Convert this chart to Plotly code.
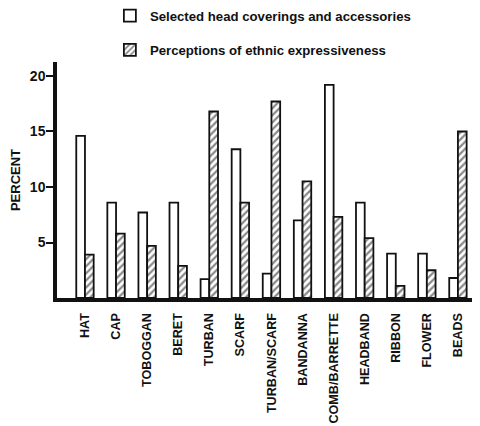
import plotly.graph_objects as go

categories = ["HAT", "CAP", "TOBOGGAN", "BERET", "TURBAN", "SCARF", "TURBAN/SCARF",
              "BANDANNA", "COMB/BARRETTE", "HEADBAND", "RIBBON", "FLOWER", "BEADS"]
selected = [14.6, 8.6, 7.7, 8.6, 1.7, 13.4, 2.2, 7.0, 19.2, 8.6, 4.0, 4.0, 1.8]
perceptions = [3.9, 5.8, 4.7, 2.9, 16.8, 8.6, 17.7, 10.5, 7.3, 5.4, 1.1, 2.5, 15.0]
y_ticks = [5, 10, 15, 20]

FONT = "Liberation Sans, Arial, sans-serif"
INK = "#111111"

fig = go.Figure()
fig.add_trace(go.Bar(
    x=categories, y=selected, name="Selected head coverings and accessories",
    marker=dict(color="white", line=dict(color=INK, width=1.8)),
    legendgroup="a",
))
fig.add_trace(go.Bar(
    x=categories, y=perceptions, name="Perceptions of ethnic expressiveness",
    marker=dict(color="white", line=dict(color=INK, width=1.8),
                pattern=dict(shape="/", fgcolor=INK, bgcolor="white", size=5, solidity=0.45)),
    legendgroup="b",
))

# the page body adds an 8px offset, so the figure is 8px smaller and margins shifted
fig.update_layout(
    width=472, height=418,
    margin=dict(l=49, r=0, t=54, b=128, autoexpand=False),
    paper_bgcolor="white", plot_bgcolor="white",
    barmode="group", bargap=0.44, bargroupgap=0,
    font=dict(family=FONT, color=INK, size=13),
    showlegend=True,
    legend=dict(
        xref="paper", yref="paper", x=0.125, y=1.26,
        xanchor="left", yanchor="top",
        traceorder="grouped", tracegroupgap=14,
        font=dict(family=FONT, size=13.2, color=INK, weight="bold"),
        bgcolor="rgba(0,0,0,0)",
    ),
    xaxis=dict(
        type="category", range=[-0.9, 12.71],
        showline=True, linecolor=INK, linewidth=4,
        ticks="", tickangle=-90, ticklabelstandoff=6,
        tickfont=dict(family=FONT, size=12.6, color=INK, weight="bold"),
        showgrid=False, zeroline=False, automargin=False,
    ),
    yaxis=dict(
        range=[0, 21.26], tickvals=y_ticks,
        showline=True, linecolor=INK, linewidth=3.5,
        ticks="outside", ticklen=7, tickwidth=1.5, tickcolor=INK,
        ticklabelstandoff=-2,
        tickfont=dict(family=FONT, size=14, color=INK, weight="bold"),
        showgrid=False, zeroline=False, automargin=False,
        title=dict(text="PERCENT", standoff=12,
                   font=dict(family=FONT, size=13, color=INK, weight="bold")),
    ),
)

fig.write_html("out.html")
